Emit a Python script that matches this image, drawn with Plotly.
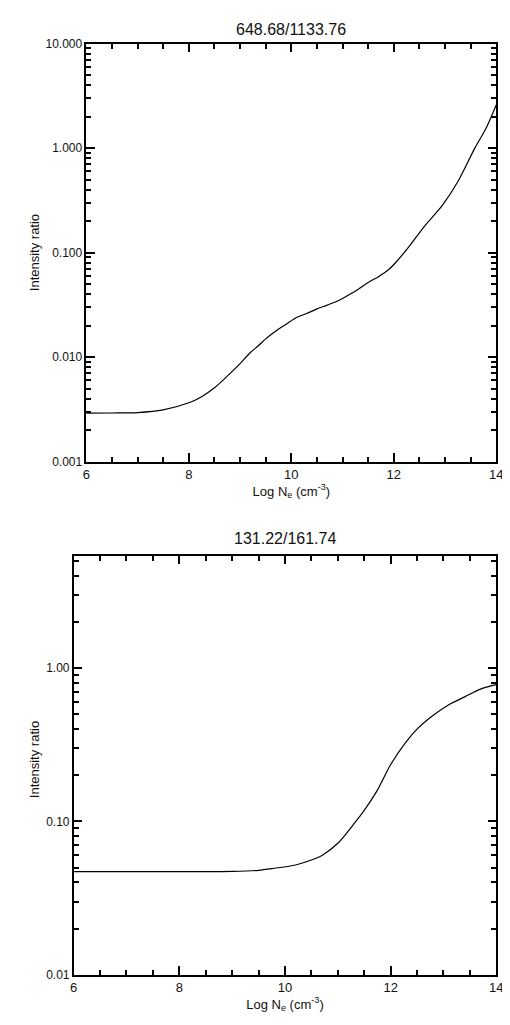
import plotly.graph_objects as go

# ---- data ----
x_top = [6.0, 6.5, 7.0, 7.5, 8.0, 8.25, 8.5, 8.75, 9.0, 9.2, 9.35, 9.5, 9.7, 9.9, 10.1,
         10.3, 10.5, 10.7, 10.9, 11.1, 11.3, 11.5, 11.7, 11.9, 12.05, 12.3, 12.6, 12.95,
         13.25, 13.58, 13.8, 14.0]
y_top = [0.00292, 0.00293, 0.00296, 0.00314, 0.00367, 0.0042, 0.0051, 0.0066, 0.0087,
         0.0111, 0.0128, 0.0150, 0.0178, 0.0207, 0.0240, 0.0262, 0.0290, 0.0315, 0.0345,
         0.0390, 0.0445, 0.052, 0.059, 0.069, 0.082, 0.115, 0.180, 0.285, 0.48, 1.0,
         1.55, 2.6]

x_bot = [6.0, 7.0, 8.0, 9.0, 9.5, 9.8, 10.2, 10.5, 10.7, 11.0, 11.3, 11.5, 11.75, 12.0,
         12.3, 12.5, 12.75, 13.1, 13.4, 13.7, 14.0]
y_bot = [0.047, 0.047, 0.047, 0.0472, 0.048, 0.0495, 0.052, 0.056, 0.060, 0.072, 0.096,
         0.118, 0.16, 0.235, 0.333, 0.40, 0.476, 0.577, 0.65, 0.73, 0.78]

title_top = "648.68/1133.76"
title_bot = "131.22/161.74"
x_major = [6, 8, 10, 12, 14]
x_minor = [6.5, 7, 7.5, 8.5, 9, 9.5, 10.5, 11, 11.5, 12.5, 13, 13.5]
top_tickvals = [0.001, 0.01, 0.1, 1, 10]
top_ticktext = ["0.001", "0.010", "0.100", "1.000", "10.000"]
bot_tickvals = [0.01, 0.1, 1]
bot_ticktext = ["0.01", "0.10", "1.00"]
x_label = "Log N<sub>e</sub> (cm<sup>-3</sup>)"
y_label = "Intensity ratio"

W, H = 510, 1025
FAM = "Liberation Sans, Arial, sans-serif"
FONT = dict(family=FAM, size=12, color="#111")


def log_minor(lo_exp, hi_exp):
    vals = []
    for e in range(lo_exp, hi_exp + 1):
        for d in range(2, 10):
            vals.append(d * 10.0 ** e)
    return vals


fig = go.Figure()
line = dict(color="black", width=1.2, shape="spline", smoothing=0.8)
fig.add_trace(go.Scatter(x=x_top, y=y_top, mode="lines", line=line,
                         xaxis="x", yaxis="y", showlegend=False))
fig.add_trace(go.Scatter(x=x_bot, y=y_bot, mode="lines", line=line,
                         xaxis="x2", yaxis="y2", showlegend=False))
# invisible copies so the minor-tick axes are drawn
fig.add_trace(go.Scatter(x=x_top, y=y_top, mode="lines", line=dict(width=0), opacity=0,
                         hoverinfo="skip", xaxis="x3", yaxis="y3", showlegend=False))
fig.add_trace(go.Scatter(x=x_bot, y=y_bot, mode="lines", line=dict(width=0), opacity=0,
                         hoverinfo="skip", xaxis="x4", yaxis="y4", showlegend=False))

common = dict(ticks="inside", tickcolor="black", tickwidth=1.5, showgrid=False, zeroline=False)


def xax(domain, anchor):
    return dict(domain=domain, anchor=anchor, range=[6, 14], tickvals=x_major, ticklen=9,
                showline=True, linecolor="black", linewidth=1.5, mirror="ticks",
                tickfont=dict(FONT, size=13), title=dict(text=x_label, font=dict(FONT, size=13), standoff=4),
                **common)


def xminor(domain, anchor, over):
    return dict(domain=domain, anchor=anchor, overlaying=over, range=[6, 14], tickvals=x_minor,
                ticklen=5, showline=False, mirror="ticks", showticklabels=False, **common)


def yax(domain, anchor, rng, tv, tt):
    return dict(domain=domain, anchor=anchor, type="log", range=rng, tickvals=tv, ticktext=tt,
                ticklen=9, showline=True, linecolor="black", linewidth=1.5, mirror="ticks",
                tickfont=FONT, **common)


def yminor(domain, anchor, over, rng, tv):
    return dict(domain=domain, anchor=anchor, overlaying=over, type="log", range=rng, tickvals=tv,
                ticklen=5, showline=False, mirror="ticks", showticklabels=False, **common)


xd1 = [76 / W, 495 / W]
yd1 = [1 - 453 / H, 1 - 29 / H]
xd2 = [63 / W, 495 / W]
yd2 = [1 - 973 / H, 1 - 548 / H]

ann_title = dict(size=16, family=FAM, color="#111")
ann_y = dict(size=13, family=FAM, color="#111")

fig.update_layout(
    width=W, height=H, autosize=False,
    margin=dict(l=0, r=0, t=0, b=0),
    paper_bgcolor="white", plot_bgcolor="white",
    xaxis=xax(xd1, "y"),
    yaxis=yax(yd1, "x", [-3, 1], top_tickvals, top_ticktext),
    xaxis2=xax(xd2, "y2"),
    yaxis2=yax(yd2, "x2", [-2, 0.735], bot_tickvals, bot_ticktext),
    xaxis3=xminor(xd1, "y3", "x"),
    yaxis3=yminor(yd1, "x3", "y", [-3, 1], log_minor(-3, 0)),
    xaxis4=xminor(xd2, "y4", "x2"),
    yaxis4=yminor(yd2, "x4", "y2", [-2, 0.735], log_minor(-2, 0)),
    annotations=[
        dict(text=title_top, x=(76 + 495) / 2 / W, y=1 - 15 / H, xref="paper", yref="paper",
             showarrow=False, font=ann_title, xanchor="center", yanchor="middle"),
        dict(text=title_bot, x=(63 + 495) / 2 / W, y=1 - 531 / H, xref="paper", yref="paper",
             showarrow=False, font=ann_title, xanchor="center", yanchor="middle"),
        dict(text=y_label, x=23 / W, y=1 - 241 / H, xref="paper", yref="paper", textangle=-90,
             showarrow=False, font=ann_y, xanchor="center", yanchor="middle"),
        dict(text=y_label, x=23 / W, y=1 - 755 / H, xref="paper", yref="paper", textangle=-90,
             showarrow=False, font=ann_y, xanchor="center", yanchor="middle"),
    ],
)

fig.write_html("out.html")
